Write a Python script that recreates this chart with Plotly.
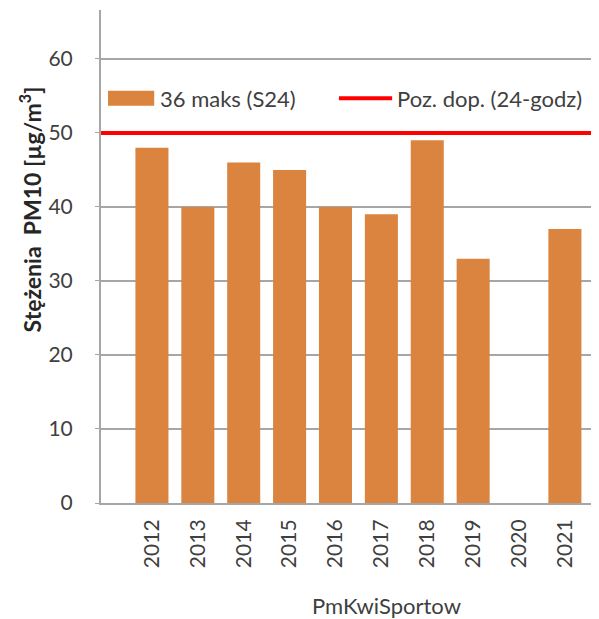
import plotly.graph_objects as go

years = [2012, 2013, 2014, 2015, 2016, 2017, 2018, 2019, 2020, 2021]
year_labels = [str(y) for y in years]
maks36 = [48, 40, 46, 45, 40, 39, 49, 33, None, 37]
limit_24h = 50
y_ticks = [0, 10, 20, 30, 40, 50, 60]

series_name = "36 maks (S24)"
limit_name = "Poz. dop. (24-godz)"
y_title = "Stężenia  PM10 [µg/m<sup>3</sup>]"
x_title = "PmKwiSportow"

x_range = [2010.89, 2021.83]
y_range = [0, 66.6]

FONT = "Lato"
TXT = "#404040"
BAR = "#DA843F"
RED = "#FF0000"

fig = go.Figure()
fig.add_trace(go.Bar(
    x=years, y=maks36, name=series_name,
    marker=dict(color=BAR, line=dict(width=0)),
    width=0.72, showlegend=False,
))
fig.add_trace(go.Scatter(
    x=x_range, y=[limit_24h, limit_24h], name=limit_name, mode="lines",
    line=dict(color=RED, width=4), showlegend=False,
))

# legend drawn in plot-domain coordinates
ly = 0.821
shapes = [
    dict(type="rect", xref="x domain", yref="y domain",
         x0=0.014, x1=0.106, y0=ly - 0.015, y1=ly + 0.015,
         fillcolor=BAR, line=dict(width=0)),
    dict(type="line", xref="x domain", yref="y domain",
         x0=0.474, x1=0.580, y0=ly, y1=ly,
         line=dict(color=RED, width=4)),
]
annotations = [
    dict(text=series_name, xref="x domain", yref="y domain", x=0.114, y=ly,
         xanchor="left", yanchor="middle", showarrow=False,
         font=dict(size=22, color=TXT)),
    dict(text=limit_name, xref="x domain", yref="y domain", x=0.586, y=ly,
         xanchor="left", yanchor="middle", showarrow=False,
         font=dict(size=22, color=TXT)),
    dict(text="<b>" + y_title + "</b>", xref="x domain", yref="y domain",
         x=-0.14, y=0.595, xanchor="center", yanchor="middle", textangle=-90,
         showarrow=False, font=dict(size=23, color="#262626")),
    dict(text=x_title, xref="x domain", yref="y domain",
         x=0.568, y=-0.207, xanchor="center", yanchor="middle",
         showarrow=False, font=dict(size=22, color=TXT)),
]

fig.update_layout(
    width=599, height=619,
    margin=dict(l=93, r=4, t=2, b=124),
    paper_bgcolor="white", plot_bgcolor="white",
    font=dict(family=FONT, size=21, color=TXT),
    showlegend=False,
    shapes=shapes, annotations=annotations,
    xaxis=dict(
        range=x_range, tickvals=years, ticktext=year_labels, tickangle=-90,
        showline=True, linecolor="#a6a6a6", linewidth=2,
        showgrid=False, zeroline=False, ticks="",
        tickfont=dict(size=21, color=TXT), ticklabelstandoff=6,
    ),
    yaxis=dict(
        range=y_range, tickvals=y_ticks, showline=True, linecolor="#a6a6a6",
        linewidth=2, showgrid=True, gridcolor="#a6a6a6", gridwidth=2,
        zeroline=False, ticks="outside", ticklen=4, tickcolor="#a6a6a6",
        tickfont=dict(size=21, color=TXT), ticklabelstandoff=18,
    ),
)

fig.write_html("out.html")
